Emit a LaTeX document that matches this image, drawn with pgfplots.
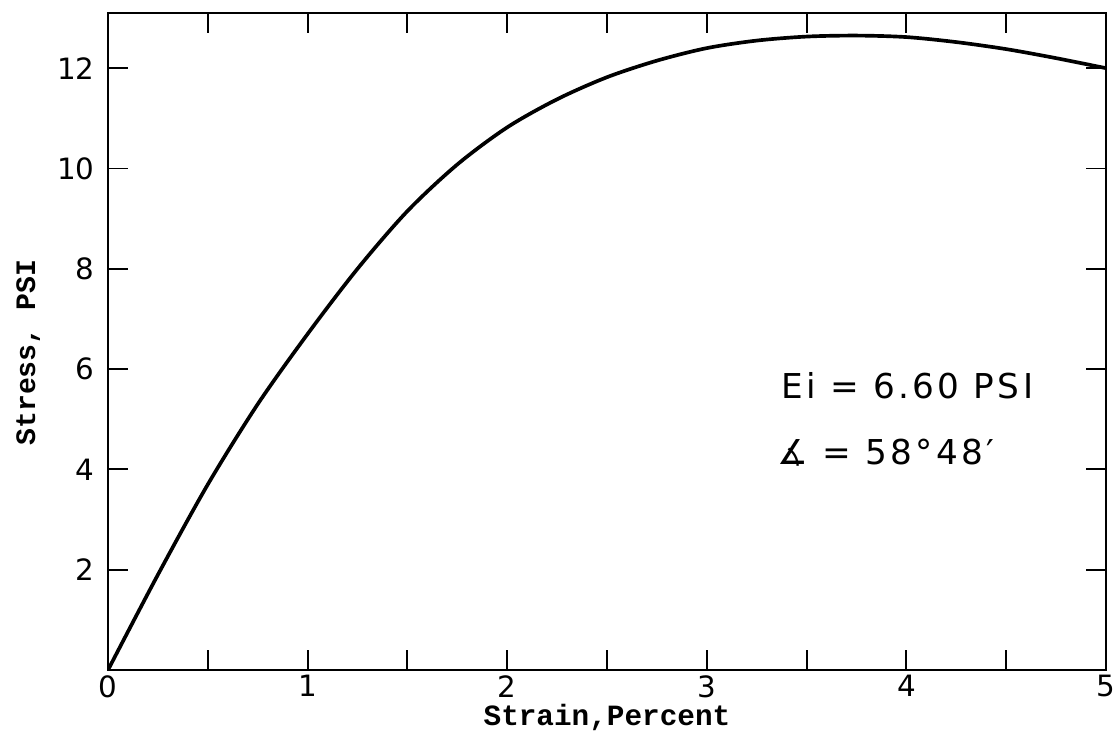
\documentclass[border=0pt]{standalone}
\usepackage{fontspec}
\setmainfont{DejaVu Sans}
\setmonofont{Liberation Mono}
\usepackage{pgfplots}
\pgfplotsset{compat=1.18}

% stress-strain curve
\pgfplotstableread{
x     y
0     0
0.25  1.9
0.5   3.7
0.75  5.3
1.0   6.7
1.25  8.0
1.5   9.15
1.75  10.08
2.0   10.82
2.25  11.38
2.5   11.82
2.75  12.15
3.0   12.4
3.25  12.55
3.5   12.63
3.75  12.65
4.0   12.62
4.25  12.52
4.5   12.38
4.75  12.2
5.0   12.0
}\curve

\begin{document}
\begin{tikzpicture}
\begin{axis}[
    scale only axis,
    width=14.334cm, height=9.437cm,
    xmin=0, xmax=5, ymin=0, ymax=13.1,
    xtick={0,1,2,3,4,5},
    minor xtick={0.5,1.5,2.5,3.5,4.5},
    ytick={2,4,6,8,10,12},
    tick align=inside,
    tick pos=both,
    xticklabel pos=bottom, yticklabel pos=left,
    major tick length=0.29cm, minor tick length=0.29cm,
    axis line style={line width=1.1pt},
    every tick/.style={black, line width=0.8pt},
    /pgf/number format/assume math mode=true,
    ticklabel style={font=\fontsize{12}{14}\selectfont},
    xticklabel style={inner sep=1pt, yshift=-1pt},
    yticklabel style={xshift=-2pt},
    xlabel={Strain,Percent},
    ylabel={Stress, PSI},
    xlabel style={at={(axis description cs:0.5,-0.085)}, anchor=base, inner sep=0pt,
        font=\ttfamily\bfseries\fontsize{12}{14}\selectfont},
    ylabel style={at={(axis description cs:-0.080,0.483)}, anchor=center, inner sep=0pt,
        font=\ttfamily\bfseries\fontsize{11.5}{14}\selectfont},
]
\addplot[black, line width=1.5pt, smooth] table {\curve};
\node[anchor=west, inner sep=0pt, font=\fontsize{14}{16}\selectfont\addfontfeature{LetterSpace=10}]
    at (axis cs:3.37,5.67) {Ei = 6.60 PSI};
\node[anchor=west, inner sep=0pt, font=\fontsize{14}{16}\selectfont\addfontfeature{LetterSpace=10}]
    at (axis cs:3.35,4.33) {∡ = 58°48′};
\end{axis}
\pgfresetboundingbox
\path ([xshift=-1.551cm,yshift=-0.890cm]current axis.south west)
    rectangle ([xshift=0.115cm,yshift=0.187cm]current axis.north east);
\end{tikzpicture}
\end{document}
